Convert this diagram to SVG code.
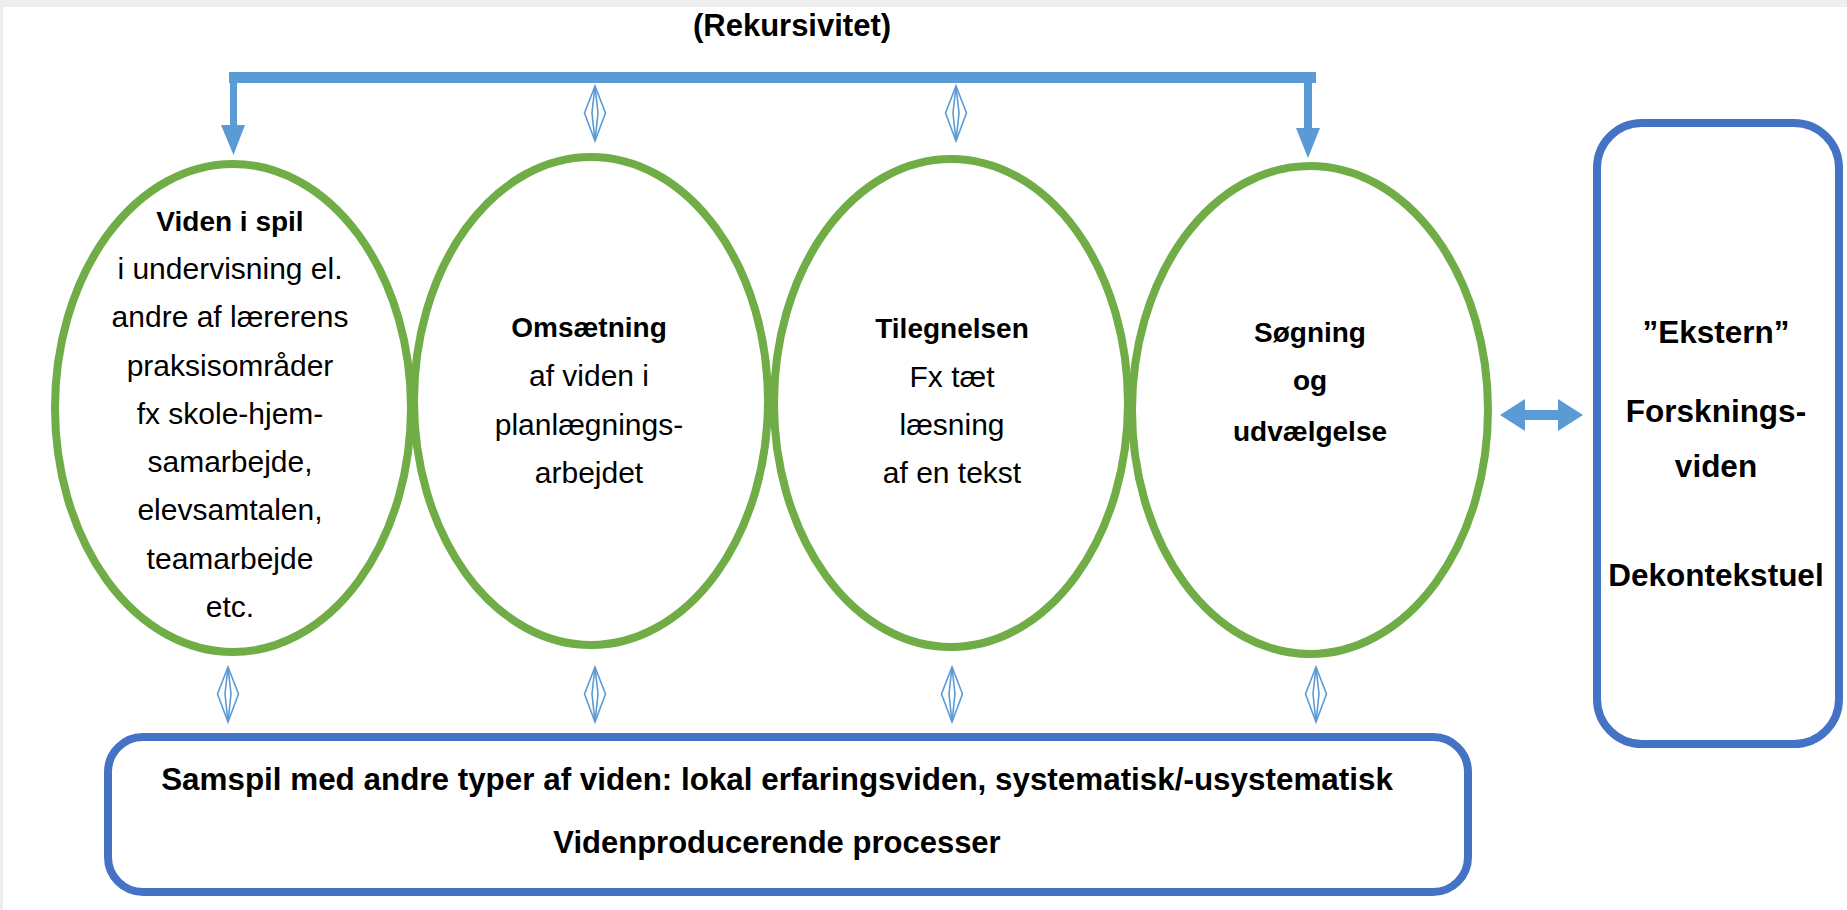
<svg xmlns="http://www.w3.org/2000/svg" width="1847" height="910" viewBox="0 0 1847 910">
<defs>
<style>
.ell{fill:none;stroke:#70ad47;stroke-width:8}
.box{fill:none;stroke:#4472c4;stroke-width:8}
.dia{fill:#fff;stroke:#5b9bd5;stroke-width:1.6;stroke-linejoin:miter}
.conn{fill:#5b9bd5;stroke:none}
.t{font-family:"Liberation Sans",Arial,sans-serif;font-size:30px;fill:#000;text-anchor:middle}
.b{font-weight:bold;font-size:28px}
.bb{font-family:"Liberation Sans",Arial,sans-serif;font-weight:bold;font-size:31px;fill:#000;text-anchor:middle}
.ek{font-size:31.5px}
</style>
<g id="dm">
<path class="dia" d="M0,0 L-10.5,27 L0,55 L10.5,27 Z"/>
<path class="dia" d="M0,0 L-3,27 L0,55 L3,27 Z"/>
</g>
</defs>
<rect x="0" y="0" width="1847" height="910" fill="#ffffff"/>
<rect x="0" y="0" width="1847" height="7" fill="#eeeeee"/>
<rect x="0" y="0" width="3" height="910" fill="#eeeeee"/>

<text class="bb" x="792" y="36">(Rekursivitet)</text>

<g id="connectors">
<rect class="conn" x="229" y="72" width="1087" height="11"/>
<rect class="conn" x="230" y="80" width="7" height="46"/>
<polygon class="conn" points="221,125 245,125 233.5,155"/>
<rect class="conn" x="1304" y="80" width="8" height="49"/>
<polygon class="conn" points="1296,128 1320,128 1308,158"/>
<use href="#dm" x="595" y="86"/>
<use href="#dm" x="956" y="86"/>
<use href="#dm" x="228" y="667"/>
<use href="#dm" x="595" y="667"/>
<use href="#dm" x="952" y="667"/>
<use href="#dm" x="1316" y="667"/>
<polygon class="conn" points="1500,415 1525,399 1525,410 1558,410 1558,399 1583,415 1558,431 1558,420 1525,420 1525,431"/>
</g>

<g id="n1">
<ellipse class="ell" cx="233" cy="408" rx="178" ry="244"/>
<text class="t b" x="230" y="231">Viden i spil</text>
<text class="t" x="230" y="279">i undervisning el.</text>
<text class="t" x="230" y="327">andre af lærerens</text>
<text class="t" x="230" y="376">praksisområder</text>
<text class="t" x="230" y="424">fx skole-hjem-</text>
<text class="t" x="230" y="472">samarbejde,</text>
<text class="t" x="230" y="520">elevsamtalen,</text>
<text class="t" x="230" y="569">teamarbejde</text>
<text class="t" x="230" y="617">etc.</text>
</g>

<g id="n2">
<ellipse class="ell" cx="591" cy="401" rx="177" ry="244"/>
<text class="t b" x="589" y="337">Omsætning</text>
<text class="t" x="589" y="386">af viden i</text>
<text class="t" x="589" y="435">planlægnings-</text>
<text class="t" x="589" y="483">arbejdet</text>
</g>

<g id="n3">
<ellipse class="ell" cx="951" cy="403" rx="177" ry="244"/>
<text class="t b" x="952" y="338">Tilegnelsen</text>
<text class="t" x="952" y="387">Fx tæt</text>
<text class="t" x="952" y="435">læsning</text>
<text class="t" x="952" y="483">af en tekst</text>
</g>

<g id="n4">
<ellipse class="ell" cx="1310" cy="410" rx="178" ry="244"/>
<text class="t b" x="1310" y="342">Søgning</text>
<text class="t b" x="1310" y="390">og</text>
<text class="t b" x="1310" y="441">udvælgelse</text>
</g>

<g id="n5">
<rect class="box" x="1597" y="123" width="242" height="621" rx="45" ry="45"/>
<text class="bb ek" x="1716" y="343">”Ekstern”</text>
<text class="bb ek" x="1716" y="422">Forsknings-</text>
<text class="bb ek" x="1716" y="477">viden</text>
<text class="bb ek" x="1716" y="586">Dekontekstuel</text>
</g>

<g id="n6">
<rect class="box" x="108" y="737" width="1360" height="155" rx="35" ry="35"/>
<text class="bb" x="777" y="790" style="font-size:31.4px">Samspil med andre typer af viden: lokal erfaringsviden, systematisk/-usystematisk</text>
<text class="bb" x="777" y="853">Videnproducerende processer</text>
</g>
</svg>
